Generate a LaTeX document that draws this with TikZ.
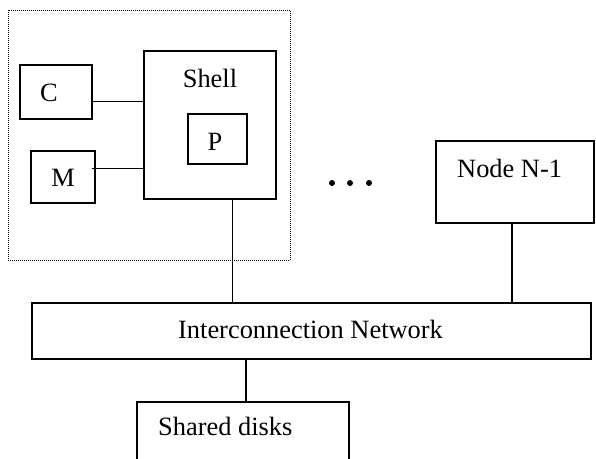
\documentclass[tikz,border=0pt]{standalone}
\usepackage{fontspec}
\setmainfont{Liberation Serif}
\usetikzlibrary{calc}
\begin{document}
\begin{tikzpicture}[x=1pt,y=-1pt,
  box/.style={draw,line width=1.2pt,inner sep=0pt,rectangle},
  lbl/.style={inner sep=0pt,font=\fontsize{26.4}{30}\selectfont},
  wire/.style={line width=1.2pt},
  dotbox/.style={draw,line width=1pt,dash pattern=on 1pt off 1pt,inner sep=0pt,rectangle}]
\useasboundingbox (0,0) rectangle (596,458);
\clip (0,0) rectangle (596,458);
% boxes
\node[dotbox,minimum width=282pt,minimum height=250pt] (node0) at (149,135) {};
\node[box,minimum width=72pt,minimum height=54pt] (C) at (56,92) {};
\node[box,minimum width=64pt,minimum height=52pt] (M) at (63,177) {};
\node[box,minimum width=132pt,minimum height=148pt] (shell) at (210,125) {};
\node[box,minimum width=59pt,minimum height=50pt] (P) at (217.5,139) {};
\node[box,minimum width=158pt,minimum height=82pt] (nodeN) at (515,182) {};
\node[box,minimum width=559pt,minimum height=56pt] (net) at (311.5,331) {};
\node[box,minimum width=212pt,minimum height=80pt] (disks) at (243,442) {};
% labels
\node[lbl,anchor=base] (tC) at (49,101) {C};
\node[lbl,anchor=base] (tM) at (63,186) {M};
\node[lbl,anchor=base] (tShell) at (210,87) {Shell};
\node[lbl,anchor=base] (tP) at (215,150) {P};
\node[lbl,anchor=base west] (tN) at (457,177) {Node N-1};
\node[lbl,anchor=base] (tNet) at (310.5,338) {Interconnection Network};
\node[lbl,anchor=base west] (tDisks) at (158,435) {Shared disks};
% dots
\fill (332,183) circle (3);
\fill (350,183) circle (3);
\fill (369,183) circle (3);
% connectors
\coordinate (cC) at ($(C.south east)!1/3!(C.north east)$);
\draw[wire] (cC) -- (cC -| shell.west);
\coordinate (cM) at ($(M.north east)!0.346!(M.south east)$);
\draw[wire] ([xshift=-4pt]cM) -- (cM -| shell.west);
\coordinate (cS) at ($(shell.south west)!2/3!(shell.south east)$);
\draw[wire] (cS) -- (cS |- net.north);
\coordinate (cN) at ($(nodeN.south west)!0.481!(nodeN.south east)$);
\draw[wire] (cN) -- (cN |- net.north);
\coordinate (cD) at (246,359);
\draw[wire] (cD |- net.south) -- (cD |- disks.north);
\end{tikzpicture}
\end{document}
